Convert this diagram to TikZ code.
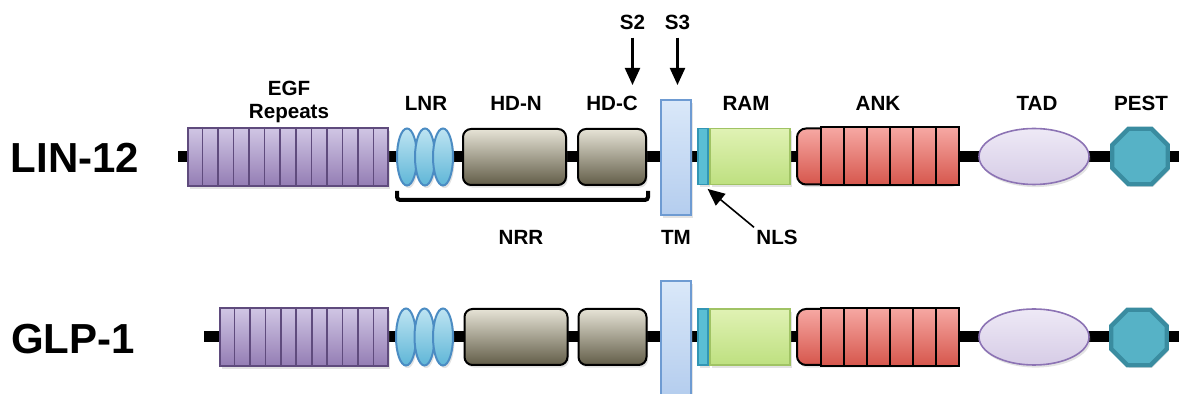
\documentclass[tikz,border=0pt]{standalone}
\usepackage{fontspec}
\setmainfont{Liberation Sans}
\usetikzlibrary{arrows.meta,shapes.geometric,shadows,calc}

\definecolor{egftop}{RGB}{208,198,228}
\definecolor{egfbot}{RGB}{148,125,180}
\definecolor{egfline}{RGB}{95,75,125}
\definecolor{lnrtop}{RGB}{190,228,242}
\definecolor{lnrbot}{RGB}{95,182,215}
\definecolor{lnrline}{RGB}{75,140,195}
\definecolor{hdtop}{RGB}{230,227,214}
\definecolor{hdbot}{RGB}{98,93,72}
\definecolor{tmtop}{RGB}{218,232,249}
\definecolor{tmbot}{RGB}{180,205,238}
\definecolor{tmline}{RGB}{110,155,210}
\definecolor{nlsfill}{RGB}{90,190,212}
\definecolor{nlsline}{RGB}{50,150,180}
\definecolor{ramtop}{RGB}{224,242,180}
\definecolor{rambot}{RGB}{190,224,128}
\definecolor{ramline}{RGB}{160,195,100}
\definecolor{anktop}{RGB}{246,168,163}
\definecolor{ankbot}{RGB}{214,86,76}
\definecolor{tadtop}{RGB}{238,233,246}
\definecolor{tadbot}{RGB}{214,204,230}
\definecolor{tadline}{RGB}{140,115,180}
\definecolor{pestfill}{RGB}{86,178,198}
\definecolor{pestline}{RGB}{58,140,160}

\tikzset{
  dombox/.style={draw, inner sep=0pt,
    drop shadow={opacity=0.22, shadow xshift=0.8pt, shadow yshift=-1.3pt}},
  egf/.style={dombox, rectangle, draw=egfline, line width=1pt,
    top color=egftop, bottom color=egfbot, minimum height=29pt},
  egfsep/.style={draw=egfline, line width=0.8pt},
  lnr/.style={dombox, ellipse, draw=lnrline, line width=1pt,
    top color=lnrtop, bottom color=lnrbot, minimum width=10pt, minimum height=28.5pt},
  hd/.style={dombox, rectangle, rounded corners=4pt, draw=black, line width=1pt,
    top color=hdtop, bottom color=hdbot, minimum height=28pt},
  tm/.style={dombox, rectangle, draw=tmline, line width=0.9pt,
    top color=tmtop, bottom color=tmbot, minimum width=15pt, minimum height=57.5pt},
  nls/.style={dombox, rectangle, draw=nlsline, line width=0.6pt, fill=nlsfill,
    minimum width=5pt, minimum height=28pt},
  ram/.style={dombox, rectangle, draw=ramline, line width=0.6pt,
    top color=ramtop, bottom color=rambot, minimum width=40pt, minimum height=28pt},
  ank/.style={dombox, rectangle, rounded corners=4.5pt, draw=black, line width=1pt,
    top color=anktop, bottom color=ankbot, minimum width=80.5pt, minimum height=28pt},
  anksep/.style={draw=black, line width=0.9pt},
  tad/.style={dombox, ellipse, draw=tadline, line width=0.8pt,
    top color=tadtop, bottom color=tadbot, minimum width=55pt, minimum height=28pt},
  pest/.style={dombox, regular polygon, regular polygon sides=8, draw=pestline,
    line width=2.2pt, fill=pestfill, minimum size=30pt},
  backbone/.style={line width=5.5pt, black},
  lbl/.style={font=\fontsize{10.3}{11.5}\selectfont\bfseries, inner sep=1pt, align=center},
  protein/.style={font=\fontsize{21}{24}\selectfont\bfseries},
  cut/.style={line width=1.1pt, -{Triangle[width=7.5pt,length=8.5pt]}},
  pointer/.style={line width=0.8pt, -{Triangle[width=7.5pt,length=8.5pt]}},
  brace/.style={line width=2pt, rounded corners=1.5pt},
}

\begin{document}
\begin{tikzpicture}[x=0.5pt,y=-0.5pt]
  \useasboundingbox (0,0) rectangle (1179,394);

  % ---------- LIN-12 ----------
  \node[protein] (lin12) at (75,158) {LIN-12};
  \coordinate (bb1s) at (178,157);
  \coordinate (bb1e) at (1179,157);
  \draw[backbone] (bb1s) -- (bb1e);

  \node[egf, minimum width=100pt] (egf1) at (288,157) {};
  \foreach \i in {1,...,12}
    \draw[egfsep] ($(egf1.north west)!\i/13!(egf1.north east)$) -- ($(egf1.south west)!\i/13!(egf1.south east)$);
  \node[lnr] (lnr1a) at (407,157) {};
  \node[lnr] (lnr1b) at (425,157) {};
  \node[lnr] (lnr1c) at (443,157) {};
  \node[hd, minimum width=51.5pt] (hdn1) at (514.5,157) {};
  \node[hd, minimum width=34pt] (hdc1) at (612,157) {};
  \node[tm] (tm1) at (676,157.5) {};
  \node[nls] (nls1) at (703,156.5) {};
  \node[ram] (ram1) at (750,156.5) {};
  \node[ank] (ank1) at (877.5,156.5) {};
  \path[draw=black, line width=1pt, top color=anktop, bottom color=ankbot]
    ([xshift=-69pt]ank1.north east) rectangle (ank1.south east);
  \foreach \k in {1,...,6}
    \draw[anksep] ([xshift=-\k*11.5pt]ank1.north east) -- ([xshift=-\k*11.5pt]ank1.south east);
  \node[tad] (tad1) at (1034,156.5) {};
  \node[pest] (pest1) at (1140,156.5) {};

  % labels
  \node[lbl] (egflbl) at (289,102) {EGF\\Repeats};
  \node[lbl] (lnrlbl) at (426,103.5) {LNR};
  \node[lbl] (hdnlbl) at (516,103.5) {HD-N};
  \node[lbl] (hdclbl) at (612,103.5) {HD-C};
  \node[lbl] (ramlbl) at (746,103.5) {RAM};
  \node[lbl] (anklbl) at (878,103.5) {ANK};
  \node[lbl] (tadlbl) at (1037,103.5) {TAD};
  \node[lbl] (pestlbl) at (1141,103.5) {PEST};

  % cleavage sites
  \node[lbl] (s2) at (632.5,22) {S2};
  \node[lbl] (s3) at (677.5,22) {S3};
  \coordinate (s2tip) at (632.5,85);
  \coordinate (s3tip) at (677.5,85);
  \draw[cut, shorten <=3pt] (s2) -- (s2tip);
  \draw[cut, shorten <=3pt] (s3) -- (s3tip);

  % NRR bracket
  \draw[brace] (397,191) -- (397,200) -- (648,200) -- (648,191);
  \node[lbl] (nrrlbl) at (521,237) {NRR};
  \node[lbl] (tmlbl) at (676,237) {TM};
  \node[lbl] (nlslbl) at (777,237) {NLS};
  \draw[pointer, shorten >=3pt] (nlslbl.north west) -- (nls1.south);

  % ---------- GLP-1 ----------
  \node[protein] (glp1) at (73,339) {GLP-1};
  \coordinate (bb2s) at (204,337);
  \coordinate (bb2e) at (1179,337);
  \draw[backbone] (bb2s) -- (bb2e);

  \node[egf, minimum width=84pt] (egf2) at (304,337) {};
  \foreach \i in {1,...,10}
    \draw[egfsep] ($(egf2.north west)!\i/11!(egf2.north east)$) -- ($(egf2.south west)!\i/11!(egf2.south east)$);
  \node[lnr] (lnr2a) at (406,337) {};
  \node[lnr] (lnr2b) at (424.5,337) {};
  \node[lnr] (lnr2c) at (443,337) {};
  \node[hd, minimum width=51.5pt] (hdn2) at (516,337) {};
  \node[hd, minimum width=34pt] (hdc2) at (612.5,337) {};
  \node[tm] (tm2) at (676,338.5) {};
  \node[nls] (nls2) at (703,337) {};
  \node[ram] (ram2) at (750,337) {};
  \node[ank] (ank2) at (877.5,337) {};
  \path[draw=black, line width=1pt, top color=anktop, bottom color=ankbot]
    ([xshift=-69pt]ank2.north east) rectangle (ank2.south east);
  \foreach \k in {1,...,6}
    \draw[anksep] ([xshift=-\k*11.5pt]ank2.north east) -- ([xshift=-\k*11.5pt]ank2.south east);
  \node[tad] (tad2) at (1034,337) {};
  \node[pest] (pest2) at (1139,337.5) {};
\end{tikzpicture}
\end{document}
